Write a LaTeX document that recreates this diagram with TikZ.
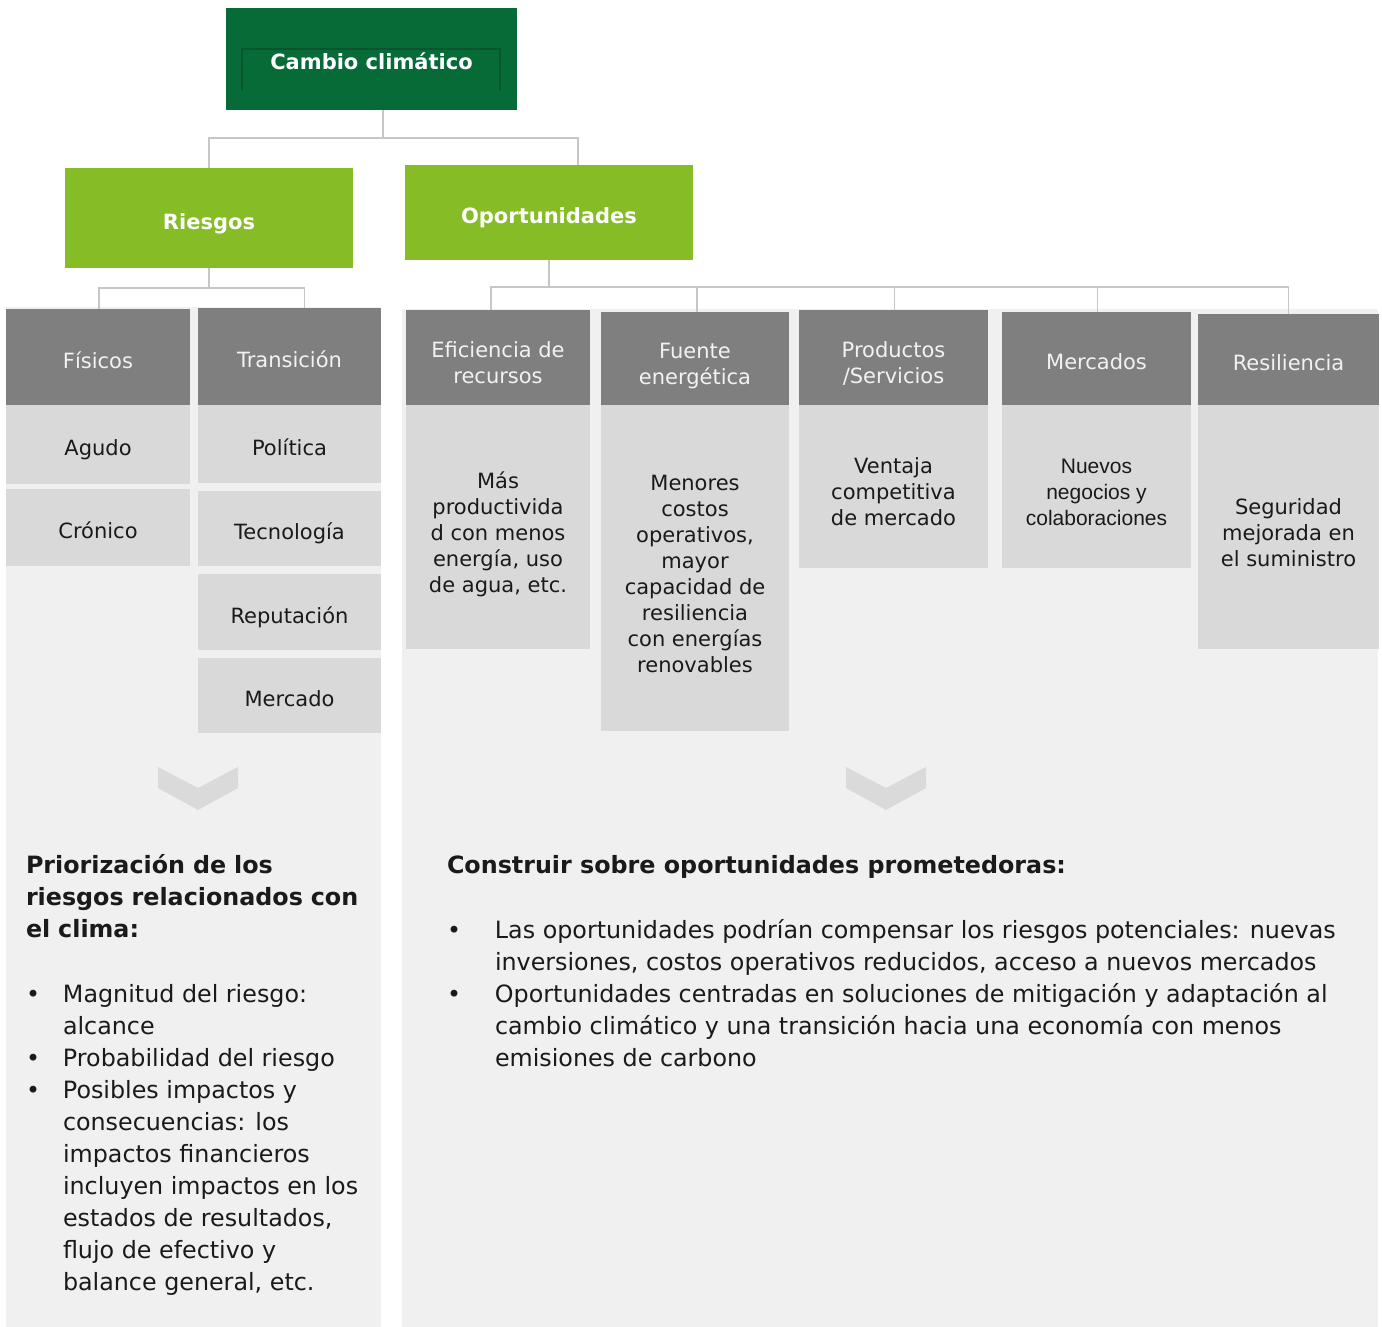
\documentclass[tikz,border=0pt]{standalone}
\usepackage{fontspec}
\setmainfont{DejaVu Sans}
\newfontfamily\narrowfont{Liberation Sans}
\usetikzlibrary{positioning}

\definecolor{darkgreen}{HTML}{076B38}
\definecolor{innergreen}{HTML}{0A5530}
\definecolor{lightgreen}{HTML}{86BC25}
\definecolor{headgray}{HTML}{7F7F7F}
\definecolor{subgray}{HTML}{D9D9D9}
\definecolor{panelgray}{HTML}{F0F0F0}
\definecolor{linegray}{HTML}{C6C6C6}
\definecolor{chevgray}{HTML}{DADADA}
\definecolor{headtext}{HTML}{F2F2F2}
\definecolor{bodytext}{HTML}{1A1A1A}

% struts that push box texts a little down
\newcommand{\histrut}{\rule{0pt}{28pt}}
\newcommand{\lostrut}{\rule[-6pt]{0pt}{6pt}}
\newcommand{\firststrut}{\rule{0pt}{32pt}}

\begin{document}
\begin{tikzpicture}[x=1pt, y=-1pt,
  box/.style={inner sep=0pt, outer sep=0pt, anchor=north west, align=center,
    execute at begin node=\histrut, execute at end node=\lostrut},
  multi/.style={execute at begin node={}, execute at end node={}},
  topbox/.style={box, fill=darkgreen, text=white, font=\fontsize{21}{26}\selectfont\bfseries},
  grpbox/.style={box, fill=lightgreen, text=white, font=\fontsize{21}{26}\selectfont\bfseries},
  headbox/.style={box, fill=headgray, text=headtext, font=\fontsize{21}{26}\selectfont},
  subbox/.style={box, fill=subgray, text=bodytext, font=\fontsize{21}{26}\selectfont},
  conn/.style={draw=linegray, line width=1.5pt},
  txt/.style={inner sep=0pt, outer sep=0pt, anchor=base west, text=bodytext, font=\fontsize{23.8}{32}\selectfont}]
\useasboundingbox (0,0) rectangle (1382,1327);

% panels
\fill[panelgray] (6,307) rectangle (381,1327);
\fill[panelgray] (402,309) rectangle (1378,1327);

% top levels
\node[topbox, minimum width=291pt, minimum height=102pt] (cc) at (226,8) {Cambio climático};
\draw[innergreen, line width=1.2pt] (242,90) |- (500,49) -- (500,90);
\node[grpbox, minimum width=288pt, minimum height=100pt] (rie) at (65,168) {Riesgos};
\node[grpbox, minimum width=288pt, minimum height=95pt] (opo) at (405,165) {Oportunidades};

% riesgos
\node[headbox, minimum width=184pt, minimum height=96pt] (fis) at (6,309) {Físicos};
\node[headbox, minimum width=183pt, minimum height=97pt] (tra) at (198,308) {Transición};
\node[subbox, minimum width=184pt, minimum height=79pt] (agu) at (6,405) {Agudo};
\node[subbox, minimum width=184pt, minimum height=77pt] (cro) at (6,489) {Crónico};
\node[subbox, minimum width=183pt, minimum height=78pt] (pol) at (198,405) {Política};
\node[subbox, minimum width=183pt, minimum height=75pt] (tec) at (198,491) {Tecnología};
\node[subbox, minimum width=183pt, minimum height=76pt] (rep) at (198,574) {Reputación};
\node[subbox, minimum width=183pt, minimum height=75pt] (mer) at (198,658) {Mercado};

% oportunidades
\node[headbox, multi, minimum width=184pt, minimum height=95pt] (efi) at (406,310) {\firststrut Eficiencia de\\recursos};
\node[subbox, multi, minimum width=184pt, minimum height=244pt] (efisub) at (406,405) {\firststrut Más\\productivida\\d con menos\\energía, uso\\de agua, etc.};
\node[headbox, multi, minimum width=188pt, minimum height=93pt] (fue) at (601,312) {\firststrut Fuente\\energética};
\node[subbox, multi, minimum width=188pt, minimum height=326pt] (fuesub) at (601,405) {\firststrut Menores\\costos\\operativos,\\mayor\\capacidad de\\resiliencia\\con energías\\renovables};
\node[headbox, multi, minimum width=189pt, minimum height=95pt] (pro) at (799,310) {\firststrut Productos\\/Servicios};
\node[subbox, multi, minimum width=189pt, minimum height=163pt] (prosub) at (799,405) {\firststrut Ventaja\\competitiva\\de mercado};
\node[headbox, minimum width=189pt, minimum height=93pt] (mds) at (1002,312) {Mercados};
\node[subbox, multi, minimum width=189pt, minimum height=163pt, font=\fontsize{21}{26}\narrowfont] (mdssub) at (1002,405) {\firststrut Nuevos\\negocios y\\colaboraciones};
\node[headbox, minimum width=181pt, minimum height=91pt] (res) at (1198,314) {Resiliencia};
\node[subbox, multi, minimum width=181pt, minimum height=244pt] (ressub) at (1198,405) {\firststrut Seguridad\\mejorada en\\el suministro};

% connectors
\coordinate (j0) at (383,138);
\coordinate (j1) at (209,288);
\coordinate (j2) at (549,287);
\draw[conn] (cc.south -| j0) -- (j0);
\draw[conn] (j0) -| (rie.north);
\draw[conn] (j0) -| ([xshift=29pt]opo.north);
\draw[conn] (rie.south) -- (j1);
\draw[conn] (j1) -| ([xshift=1pt]fis.north);
\draw[conn] (j1) -| ([xshift=15pt]tra.north);
\draw[conn] (opo.south) -- (j2);
\draw[conn] (j2) -| ([xshift=-7pt]efi.north);
\draw[conn] (j2) -| ([xshift=2pt]fue.north);
\draw[conn] (j2) -| ([xshift=1pt]pro.north);
\draw[conn] (j2) -| ([xshift=1pt]mds.north);
\draw[conn] (j2) -| (res.north);

% chevrons
\foreach \cx in {198,886}
  \fill[chevgray] (\cx-40,767) -- (\cx,788) -- (\cx+40,767) -- (\cx+40,788) -- (\cx,810) -- (\cx-40,788) -- cycle;

% texts
\node[txt, text width=350pt, align=left, font=\fontsize{23.8}{32}\selectfont\bfseries] (ltitle) at (26,873) {Priorización de los\\riesgos relacionados con\\el clima:};
\node[txt] (llist) at (26,1002) {\begin{tabular}[t]{@{}p{37pt}@{}l@{}}
\textbullet & Magnitud del riesgo:\\
 & alcance\\
\textbullet & Probabilidad del riesgo\\
\textbullet & Posibles impactos y\\
 & consecuencias: los\\
 & impactos financieros\\
 & incluyen impactos en los\\
 & estados de resultados,\\
 & flujo de efectivo y\\
 & balance general, etc.
\end{tabular}};
\node[txt, font=\fontsize{23.8}{32}\selectfont\bfseries] (rtitle) at (447,873) {Construir sobre oportunidades prometedoras:};
\node[txt] (rlist) at (447,938) {\begin{tabular}[t]{@{}p{48pt}@{}l@{}}
\textbullet & Las oportunidades podrían compensar los riesgos potenciales: nuevas\\
 & inversiones, costos operativos reducidos, acceso a nuevos mercados\\
\textbullet & Oportunidades centradas en soluciones de mitigación y adaptación al\\
 & cambio climático y una transición hacia una economía con menos\\
 & emisiones de carbono
\end{tabular}};
\end{tikzpicture}
\end{document}
